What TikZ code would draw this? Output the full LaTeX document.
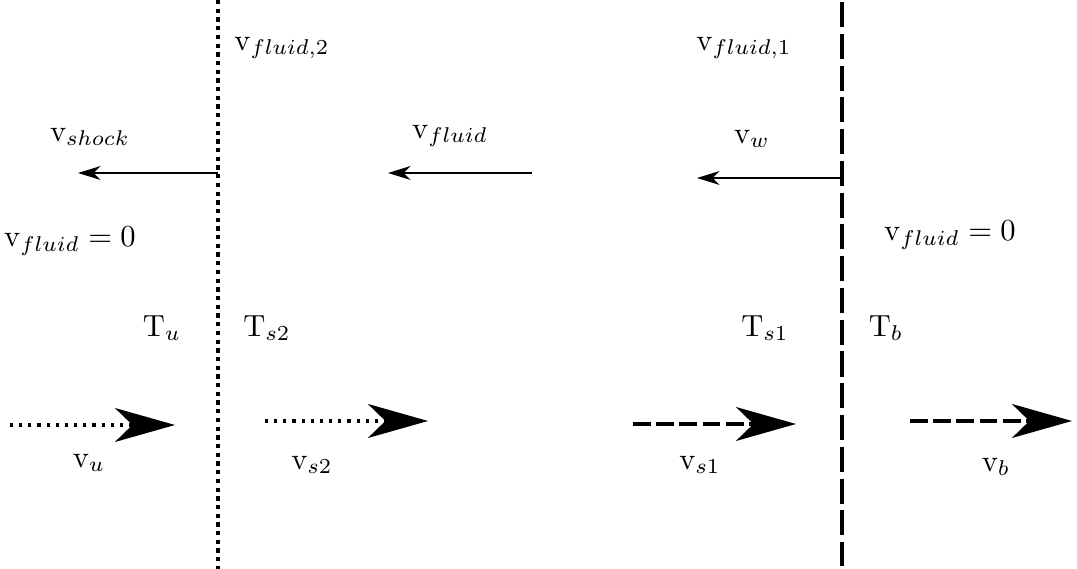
\documentclass[tikz,border=0pt]{standalone}
\usetikzlibrary{arrows.meta}

\tikzset{
  front/.style={line width=1.4pt},
  shockline/.style={front, dash pattern=on 1.4pt off 1.45pt},
  wallline/.style={front, line width=1.6pt, dash pattern=on 8.2pt off 2.2pt},
  flow/.style={line width=1pt, -{Stealth[length=6.9mm, width=3.9mm, inset=2mm]}},
  flowdash/.style={flow, dash pattern=on 5.8pt off 1.8pt},
  speed/.style={semithick, -{Stealth[length=2.6mm, width=1.6mm, inset=0.8mm]}},
  lbl/.style={inner sep=0pt}
}

\begin{document}
\begin{tikzpicture}[x=0.0115cm, y=-0.0115cm]
  \useasboundingbox (0,0) rectangle (1077,569);

  % the two fronts
  \coordinate (shocktop) at (218,0);
  \coordinate (shockbot) at (218,569);
  \coordinate (walltop) at (842,2);
  \coordinate (wallbot) at (842,566);
  \draw[shockline] (shocktop) -- (shockbot);
  \draw[wallline] (walltop) -- (wallbot);

  \node[lbl] (vfl2) at (282,48) {$\mathrm{v}_{fluid,2}$};
  \node[lbl] (vfl1) at (744,48) {$\mathrm{v}_{fluid,1}$};

  % velocities in the wall frame
  \node[lbl] (vsh) at (90,137) {$\mathrm{v}_{shock}$};
  \coordinate (sh0) at (218,173);
  \coordinate (sh1) at (78,173);
  \draw[speed] (sh0) -- (sh1);

  \node[lbl] (vfl) at (450,136) {$\mathrm{v}_{fluid}$};
  \coordinate (fl0) at (532,173);
  \coordinate (fl1) at (388,173);
  \draw[speed] (fl0) -- (fl1);

  \node[lbl] (vw) at (752,139) {$\mathrm{v}_{w}$};
  \coordinate (w0) at (842,178);
  \coordinate (w1) at (697,178);
  \draw[speed] (w0) -- (w1);

  \node[lbl] (rest1) at (70,241) {$\mathrm{v}_{fluid}=0$};
  \node[lbl] (rest2) at (950,235) {$\mathrm{v}_{fluid}=0$};

  % temperatures
  \node[lbl] (Tu) at (162,328) {$\mathrm{T}_u$};
  \node[lbl] (Ts2) at (267,328) {$\mathrm{T}_{s2}$};
  \node[lbl] (Ts1) at (765,328) {$\mathrm{T}_{s1}$};
  \node[lbl] (Tb) at (886,328) {$\mathrm{T}_b$};

  % velocities in the front frames
  \coordinate (u0) at (10,425);
  \coordinate (u1) at (175,425);
  \draw[flow, dotted] (u0) -- (u1);
  \node[lbl] (vu) at (89,463) {$\mathrm{v}_u$};

  \coordinate (s20) at (265,421);
  \coordinate (s21) at (428,421);
  \draw[flow, dotted] (s20) -- (s21);
  \node[lbl] (vs2) at (312,465) {$\mathrm{v}_{s2}$};

  \coordinate (s10) at (633,424);
  \coordinate (s11) at (796,424);
  \draw[flowdash] (s10) -- (s11);
  \node[lbl] (vs1) at (700,465) {$\mathrm{v}_{s1}$};

  \coordinate (b0) at (910,421);
  \coordinate (b1) at (1072,421);
  \draw[flowdash] (b0) -- (b1);
  \node[lbl] (vb) at (996,467) {$\mathrm{v}_b$};
\end{tikzpicture}
\end{document}
